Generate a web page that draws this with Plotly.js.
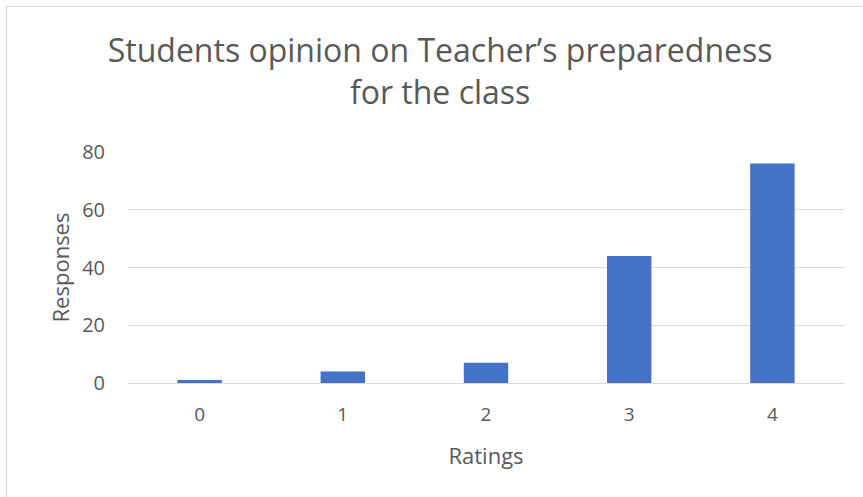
<!DOCTYPE html>
<html>
<head>
<meta charset="utf-8">
<script src="https://cdn.plot.ly/plotly-3.0.1.min.js"></script>
<style>
  html, body { margin: 0; padding: 0; background: #ffffff; }
  #frame { position: absolute; left: 6px; top: 6px; width: 900px; height: 600px; border: 1px solid #d9d9d9; box-sizing: border-box; }
  #chart { position: absolute; left: 0; top: 0; width: 863px; height: 497px; }
</style>
</head>
<body>
<div id="frame"></div>
<div id="chart"></div>
<script>
const ratings = ["0", "1", "2", "3", "4"];
const responses = [1, 4, 7, 44, 76];
const yTicks = [0, 20, 40, 60, 80];

const textColor = "#595959";
const fontFamily = "'Open Sans', 'Noto Sans', sans-serif";

const trace = {
  type: "bar",
  x: ratings,
  y: responses,
  marker: { color: "#4472C4" },
  width: 0.31,
  hoverinfo: "x+y"
};

const layout = {
  width: 863,
  height: 497,
  paper_bgcolor: "rgba(0,0,0,0)",
  plot_bgcolor: "rgba(0,0,0,0)",
  margin: { l: 128, r: 19, t: 152, b: 114 },
  showlegend: false,
  title: {
    text: "Students opinion on Teacher’s preparedness<br>for the class",
    font: { family: fontFamily, size: 32, color: textColor },
    x: 0.51,
    xanchor: "center",
    y: 0.875,
    yanchor: "top"
  },
  xaxis: {
    type: "category",
    tickfont: { family: fontFamily, size: 19, color: textColor },
    showgrid: false,
    zeroline: false,
    showline: false,
    ticks: "",
    ticklen: 0,
    ticklabelstandoff: 18,
    title: { text: "Ratings", font: { family: fontFamily, size: 22, color: textColor }, standoff: 22 }
  },
  yaxis: {
    range: [0, 80],
    tickvals: yTicks,
    ticktext: yTicks.map(String),
    tickfont: { family: fontFamily, size: 20, color: textColor },
    showgrid: true,
    gridcolor: "#d9d9d9",
    gridwidth: 1,
    zeroline: true,
    zerolinecolor: "#d9d9d9",
    zerolinewidth: 1,
    showline: false,
    ticks: "",
    ticklabelstandoff: 22,
    title: { text: "Responses", font: { family: fontFamily, size: 22, color: textColor }, standoff: 6 }
  }
};

Plotly.newPlot("chart", [trace], layout, { displayModeBar: false, responsive: false });
</script>
</body>
</html>
